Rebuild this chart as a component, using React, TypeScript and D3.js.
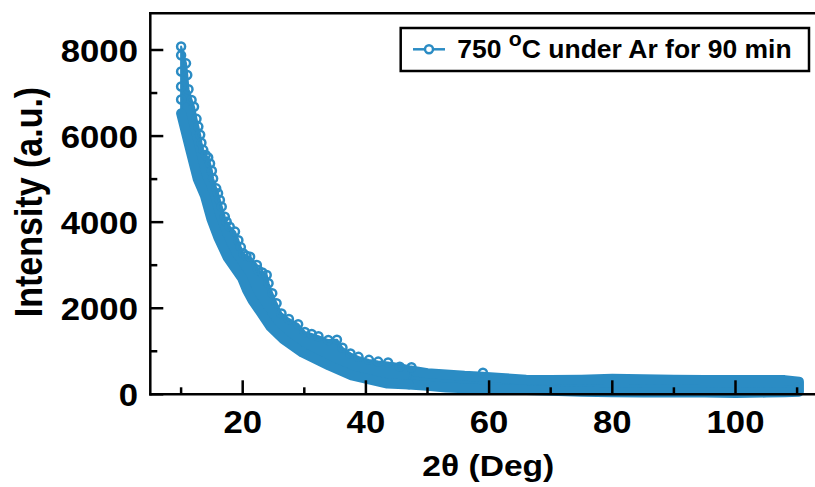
import React from 'react';
import * as d3 from 'd3';

const W = 815;
const H = 487;
const BLUE = '#2b8cc4';
const FONT = '"Liberation Sans", Arial, Helvetica, sans-serif';

// axis domain & ticks
const X_MIN = 5;
const X_MAX = 113;
const Y_MIN = 0;
const Y_MAX = 8855;
const xTicksMajor = [20, 40, 60, 80, 100];
const xTicksMinor = [10, 30, 50, 70, 90, 110];
const yTicksMajor = [0, 2000, 4000, 6000, 8000];
const yTicksMinor = [1000, 3000, 5000, 7000];

// dense steep part of the pattern: upper edge (open circles) and lower edge
const headUpX = [10.0, 10.8, 11.0, 11.2, 11.7, 12.1, 12.5, 12.8, 13.1, 13.3, 13.6, 14.0, 14.4, 14.7, 15.0, 15.2, 15.7, 16.0, 16.3, 16.6, 17.1, 17.4, 17.9, 18.75, 19.3, 19.7, 20.1, 20.6, 21.2, 22.3, 22.5, 23.2, 23.9, 24.2, 24.8, 25.5, 26.3, 27.5, 29.0, 30.1, 31.2, 32.3, 33.9, 35.3, 36.2, 37.5, 38.8, 40.5, 42.0, 43.6, 45.5, 47.4];
const headUpY = [8080, 7690, 7420, 7090, 6840, 6680, 6400, 6220, 6030, 5845, 5680, 5560, 5505, 5365, 5195, 5015, 4785, 4670, 4515, 4360, 4125, 4010, 3895, 3780, 3580, 3420, 3275, 3220, 3195, 3005, 2890, 2830, 2770, 2580, 2350, 2115, 1880, 1750, 1630, 1450, 1400, 1350, 1260, 1270, 1080, 950, 870, 800, 760, 740, 640, 630];
const headLowX = [10.0, 11.6, 12.7, 13.85, 14.9, 16.0, 17.55, 19.9, 20.7, 21.6, 22.95, 24.5, 26.6, 29.7, 34.0, 37.7, 43.5, 47.0];
const headLowY = [6530, 5620, 5000, 4620, 4080, 3660, 3180, 2700, 2420, 2180, 1900, 1570, 1280, 970, 670, 440, 250, 230];

// flat tail: band of points between low and high
const tailX = [44, 47, 50, 53, 56, 59, 62, 66, 70, 75, 80, 85, 90, 95, 100, 105, 108, 110.3];
const tailHigh = [640, 560, 490, 460, 430, 410, 380, 340, 330, 340, 360, 350, 340, 330, 330, 330, 330, 290];
const tailLow = [280, 230, 200, 160, 140, 120, 110, 100, 80, 60, 50, 40, 40, 40, 30, 40, 50, 60];

// extra single open circles on the left edge and in the tail
const extraX = [10.0, 10.0, 10.0, 10.0, 59.0, 110.0];
const extraY = [7880, 7500, 7150, 6850, 500, 150];

const legendLabel = ['750 ', 'o', 'C under Ar for 90 min'];
const xTitle = '2θ (Deg)';
const yTitle = 'Intensity (a.u.)';

const x = d3.scaleLinear().domain([0, 110]).range([119.5, 119.5 + 6.16 * 110]);
const y = d3.scaleLinear().domain([0, 8000]).range([394.3, 50]);

function T(props: any) {
  const { x: tx, y: ty, sx = 1.12, anchor = 'middle', size = 30, rotate, children } = props;
  const tr = `translate(${tx},${ty}) scale(${sx},1)` + (rotate ? ` rotate(${rotate})` : '');
  return (
    <text transform={tr} textAnchor={anchor} fontSize={size} fontWeight="bold" fontFamily={FONT} fill="#000">
      {children}
    </text>
  );
}

export default function App() {
  const up: [number, number][] = headUpX.map((v, i) => [v, headUpY[i]]);
  const low: [number, number][] = headLowX.map((v, i) => [v, headLowY[i]]);
  const poly = d3
    .line<[number, number]>()
    .x((d) => x(d[0]))
    .y((d) => y(d[1]))
    .curve(d3.curveLinearClosed)(up.concat(low.slice().reverse())) as string;
  const lowLine = d3
    .line<[number, number]>()
    .x((d) => x(d[0]))
    .y((d) => y(d[1]))(low) as string;
  const tailArea = d3
    .area<number>()
    .x((d) => x(d))
    .y0((_, i) => y(tailLow[i]))
    .y1((_, i) => y(tailHigh[i]))(tailX) as string;

  const left = x(X_MIN);
  const right = x(X_MAX);
  const top = y(Y_MAX);
  const bottom = y(Y_MIN);
  const AX = 2.5;

  return (
    <svg width={W} height={H} style={{ position: 'absolute', left: 0, top: 0 }}>
      <rect width={W} height={H} fill="#fff" />
      {/* data */}
      <path d={tailArea} fill={BLUE} stroke={BLUE} strokeWidth={10} strokeLinejoin="round" />
      <path d={poly} fill={BLUE} stroke={BLUE} strokeWidth={2} strokeLinejoin="round" />
      <path d={lowLine} fill="none" stroke={BLUE} strokeWidth={10} strokeLinejoin="round" strokeLinecap="round" />
      {headUpX.map((v, i) => (
        <circle key={'u' + i} cx={x(v)} cy={y(headUpY[i])} r={4} fill="none" stroke={BLUE} strokeWidth={2.5} />
      ))}
      {extraX.map((v, i) => (
        <circle key={'e' + i} cx={x(v)} cy={y(extraY[i])} r={4} fill="none" stroke={BLUE} strokeWidth={2.5} />
      ))}

      {/* axes */}
      <line x1={left} x2={left} y1={top} y2={bottom} stroke="#000" strokeWidth={AX} strokeLinecap="square" />
      <line x1={left} x2={right} y1={top} y2={top} stroke="#000" strokeWidth={AX} strokeLinecap="square" />
      <line x1={left} x2={right} y1={bottom} y2={bottom} stroke="#000" strokeWidth={AX} strokeLinecap="square" />
      {xTicksMajor.map((t) => (
        <line key={'xM' + t} x1={x(t)} x2={x(t)} y1={bottom} y2={bottom - 14} stroke="#000" strokeWidth={AX} />
      ))}
      {xTicksMinor.map((t) => (
        <line key={'xm' + t} x1={x(t)} x2={x(t)} y1={bottom} y2={bottom - 7} stroke="#000" strokeWidth={AX} />
      ))}
      {yTicksMajor.map((t) => (
        <line key={'yM' + t} x1={left} x2={left + 13} y1={y(t)} y2={y(t)} stroke="#000" strokeWidth={AX} />
      ))}
      {yTicksMinor.map((t) => (
        <line key={'ym' + t} x1={left} x2={left + 7} y1={y(t)} y2={y(t)} stroke="#000" strokeWidth={AX} />
      ))}
      {xTicksMajor.map((t) => (
        <T key={'xl' + t} x={x(t)} y={bottom + 39} size={31}>
          {String(t)}
        </T>
      ))}
      {yTicksMajor.map((t) => (
        <T key={'yl' + t} x={138} y={y(t) + 12} size={31} anchor="end">
          {String(t)}
        </T>
      ))}
      <T x={488.3} y={476} size={30}>
        {xTitle}
      </T>
      <T x={41.7} y={202} size={34} rotate={-90}>
        {yTitle}
      </T>

      {/* legend */}
      <rect x={400.7} y={28} width={408.3} height={43} fill="#fff" stroke="#000" strokeWidth={2.5} />
      <line x1={413} x2={445} y1={49.3} y2={49.3} stroke={BLUE} strokeWidth={2.5} />
      <circle cx={429} cy={49.3} r={4} fill="#fff" stroke={BLUE} strokeWidth={2.5} />
      <text
        transform="translate(457.3,57.5) scale(1.06,1)"
        fontSize={25}
        fontWeight="bold"
        fontFamily={FONT}
        fill="#000"
      >
        {legendLabel[0]}
        <tspan fontSize={20} dy={-12}>
          {legendLabel[1]}
        </tspan>
        <tspan dy={12}>{legendLabel[2]}</tspan>
      </text>
    </svg>
  );
}
